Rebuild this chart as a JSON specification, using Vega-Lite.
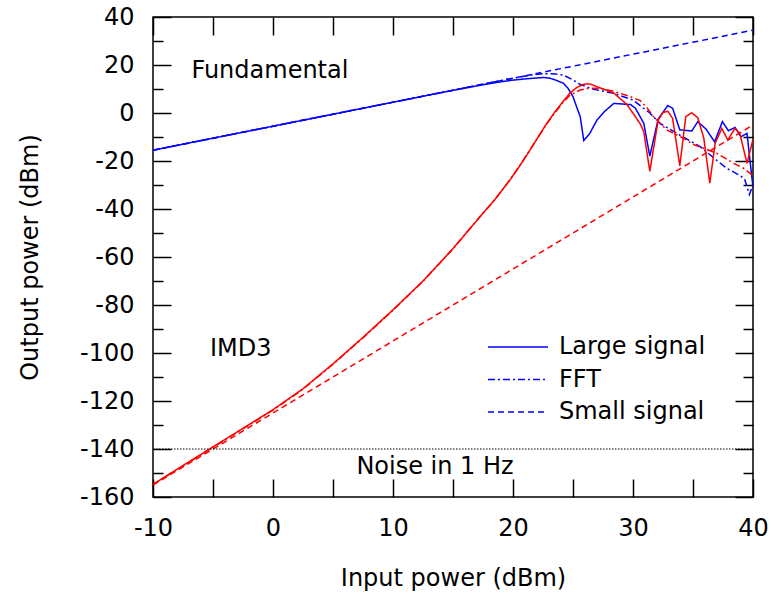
{
  "$schema": "https://vega.github.io/schema/vega-lite/v6.json",
  "width": 600,
  "height": 480,
  "autosize": {"type": "none"},
  "padding": {"left": 153, "top": 17, "right": 18, "bottom": 103},
  "background": "white",
  "config": {
    "font": "DejaVu Sans",
    "view": {"stroke": "black", "strokeWidth": 1.5},
    "axis": {"grid": false, "domain": false, "tickColor": "black", "tickWidth": 1.5, "labelColor": "black", "titleColor": "black", "labelFont": "DejaVu Sans", "titleFont": "DejaVu Sans", "labelFontSize": 24, "titleFontSize": 24, "titleFontWeight": "normal", "labelFlush": false, "labelOverlap": false, "labelBound": false}
  },
  "resolve": {"axis": {"x": "independent", "y": "independent"}},
  "layer": [
    {
      "data": {"values": [
        {"x": -10, "y": -15.5, "series": "fs", "group": "Fundamental", "type": "Small signal"},
        {"x": 40, "y": 34.5, "series": "fs", "group": "Fundamental", "type": "Small signal"},
        {"x": -10, "y": -15.5, "series": "fl", "group": "Fundamental", "type": "Large signal"},
        {"x": 0, "y": -5.5, "series": "fl", "group": "Fundamental", "type": "Large signal"},
        {"x": 10, "y": 4.5, "series": "fl", "group": "Fundamental", "type": "Large signal"},
        {"x": 15, "y": 9.45, "series": "fl", "group": "Fundamental", "type": "Large signal"},
        {"x": 17, "y": 11.3, "series": "fl", "group": "Fundamental", "type": "Large signal"},
        {"x": 18, "y": 12.2, "series": "fl", "group": "Fundamental", "type": "Large signal"},
        {"x": 19, "y": 13.0, "series": "fl", "group": "Fundamental", "type": "Large signal"},
        {"x": 20, "y": 13.7, "series": "fl", "group": "Fundamental", "type": "Large signal"},
        {"x": 21, "y": 14.2, "series": "fl", "group": "Fundamental", "type": "Large signal"},
        {"x": 22, "y": 14.6, "series": "fl", "group": "Fundamental", "type": "Large signal"},
        {"x": 22.5, "y": 14.8, "series": "fl", "group": "Fundamental", "type": "Large signal"},
        {"x": 23, "y": 14.6, "series": "fl", "group": "Fundamental", "type": "Large signal"},
        {"x": 23.5, "y": 13.8, "series": "fl", "group": "Fundamental", "type": "Large signal"},
        {"x": 24.2, "y": 12.4, "series": "fl", "group": "Fundamental", "type": "Large signal"},
        {"x": 24.6, "y": 10.2, "series": "fl", "group": "Fundamental", "type": "Large signal"},
        {"x": 25.0, "y": 6.8, "series": "fl", "group": "Fundamental", "type": "Large signal"},
        {"x": 25.3, "y": 2.6, "series": "fl", "group": "Fundamental", "type": "Large signal"},
        {"x": 25.6, "y": -1.5, "series": "fl", "group": "Fundamental", "type": "Large signal"},
        {"x": 25.9, "y": -11.5, "series": "fl", "group": "Fundamental", "type": "Large signal"},
        {"x": 26.4, "y": -8.5, "series": "fl", "group": "Fundamental", "type": "Large signal"},
        {"x": 27.0, "y": -2.9, "series": "fl", "group": "Fundamental", "type": "Large signal"},
        {"x": 27.6, "y": 0.5, "series": "fl", "group": "Fundamental", "type": "Large signal"},
        {"x": 28.4, "y": 4.0, "series": "fl", "group": "Fundamental", "type": "Large signal"},
        {"x": 29.8, "y": 3.5, "series": "fl", "group": "Fundamental", "type": "Large signal"},
        {"x": 30.2, "y": 2.0, "series": "fl", "group": "Fundamental", "type": "Large signal"},
        {"x": 30.9, "y": -4.3, "series": "fl", "group": "Fundamental", "type": "Large signal"},
        {"x": 31.4, "y": -18.0, "series": "fl", "group": "Fundamental", "type": "Large signal"},
        {"x": 32.1, "y": -2.5, "series": "fl", "group": "Fundamental", "type": "Large signal"},
        {"x": 32.9, "y": 3.1, "series": "fl", "group": "Fundamental", "type": "Large signal"},
        {"x": 33.3, "y": 2.0, "series": "fl", "group": "Fundamental", "type": "Large signal"},
        {"x": 33.9, "y": -7.0, "series": "fl", "group": "Fundamental", "type": "Large signal"},
        {"x": 34.9, "y": -7.5, "series": "fl", "group": "Fundamental", "type": "Large signal"},
        {"x": 35.4, "y": -3.6, "series": "fl", "group": "Fundamental", "type": "Large signal"},
        {"x": 36.1, "y": -6.8, "series": "fl", "group": "Fundamental", "type": "Large signal"},
        {"x": 36.8, "y": -12.0, "series": "fl", "group": "Fundamental", "type": "Large signal"},
        {"x": 37.45, "y": -3.6, "series": "fl", "group": "Fundamental", "type": "Large signal"},
        {"x": 37.95, "y": -7.4, "series": "fl", "group": "Fundamental", "type": "Large signal"},
        {"x": 38.5, "y": -6.0, "series": "fl", "group": "Fundamental", "type": "Large signal"},
        {"x": 39.0, "y": -9.9, "series": "fl", "group": "Fundamental", "type": "Large signal"},
        {"x": 39.5, "y": -8.5, "series": "fl", "group": "Fundamental", "type": "Large signal"},
        {"x": 40, "y": -31, "series": "fl", "group": "Fundamental", "type": "Large signal"},
        {"x": -10, "y": -15.5, "series": "ff", "group": "Fundamental", "type": "FFT"},
        {"x": 0, "y": -5.5, "series": "ff", "group": "Fundamental", "type": "FFT"},
        {"x": 10, "y": 4.5, "series": "ff", "group": "Fundamental", "type": "FFT"},
        {"x": 17.25, "y": 11.75, "series": "ff", "group": "Fundamental", "type": "FFT"},
        {"x": 20, "y": 14.5, "series": "ff", "group": "Fundamental", "type": "FFT"},
        {"x": 21.5, "y": 15.8, "series": "ff", "group": "Fundamental", "type": "FFT"},
        {"x": 22.5, "y": 16.4, "series": "ff", "group": "Fundamental", "type": "FFT"},
        {"x": 23.5, "y": 16.3, "series": "ff", "group": "Fundamental", "type": "FFT"},
        {"x": 24.2, "y": 15.8, "series": "ff", "group": "Fundamental", "type": "FFT"},
        {"x": 25, "y": 13.8, "series": "ff", "group": "Fundamental", "type": "FFT"},
        {"x": 25.6, "y": 11.9, "series": "ff", "group": "Fundamental", "type": "FFT"},
        {"x": 26.7, "y": 9.9, "series": "ff", "group": "Fundamental", "type": "FFT"},
        {"x": 28.4, "y": 8.2, "series": "ff", "group": "Fundamental", "type": "FFT"},
        {"x": 30, "y": 5.4, "series": "ff", "group": "Fundamental", "type": "FFT"},
        {"x": 31.4, "y": 0, "series": "ff", "group": "Fundamental", "type": "FFT"},
        {"x": 32.25, "y": -4.3, "series": "ff", "group": "Fundamental", "type": "FFT"},
        {"x": 33.9, "y": -9.2, "series": "ff", "group": "Fundamental", "type": "FFT"},
        {"x": 35.6, "y": -14, "series": "ff", "group": "Fundamental", "type": "FFT"},
        {"x": 36.8, "y": -19, "series": "ff", "group": "Fundamental", "type": "FFT"},
        {"x": 37.8, "y": -23, "series": "ff", "group": "Fundamental", "type": "FFT"},
        {"x": 38.9, "y": -26, "series": "ff", "group": "Fundamental", "type": "FFT"},
        {"x": 39.3, "y": -27.5, "series": "ff", "group": "Fundamental", "type": "FFT"},
        {"x": 39.7, "y": -34, "series": "ff", "group": "Fundamental", "type": "FFT"},
        {"x": 40, "y": -30, "series": "ff", "group": "Fundamental", "type": "FFT"},
        {"x": -10, "y": -155, "series": "is", "group": "IMD3", "type": "Small signal"},
        {"x": 40, "y": -5, "series": "is", "group": "IMD3", "type": "Small signal"},
        {"x": -10, "y": -154.7, "series": "il", "group": "IMD3", "type": "Large signal"},
        {"x": -7.5, "y": -146.9, "series": "il", "group": "IMD3", "type": "Large signal"},
        {"x": -5, "y": -139.1, "series": "il", "group": "IMD3", "type": "Large signal"},
        {"x": -2.5, "y": -131.4, "series": "il", "group": "IMD3", "type": "Large signal"},
        {"x": 0, "y": -123.6, "series": "il", "group": "IMD3", "type": "Large signal"},
        {"x": 2.5, "y": -114.9, "series": "il", "group": "IMD3", "type": "Large signal"},
        {"x": 5, "y": -104.5, "series": "il", "group": "IMD3", "type": "Large signal"},
        {"x": 7.5, "y": -93.5, "series": "il", "group": "IMD3", "type": "Large signal"},
        {"x": 10, "y": -82, "series": "il", "group": "IMD3", "type": "Large signal"},
        {"x": 12.5, "y": -70, "series": "il", "group": "IMD3", "type": "Large signal"},
        {"x": 15, "y": -56.5, "series": "il", "group": "IMD3", "type": "Large signal"},
        {"x": 17.25, "y": -43.2, "series": "il", "group": "IMD3", "type": "Large signal"},
        {"x": 18.5, "y": -36, "series": "il", "group": "IMD3", "type": "Large signal"},
        {"x": 19.75, "y": -27.9, "series": "il", "group": "IMD3", "type": "Large signal"},
        {"x": 20.5, "y": -22.5, "series": "il", "group": "IMD3", "type": "Large signal"},
        {"x": 21.25, "y": -16.8, "series": "il", "group": "IMD3", "type": "Large signal"},
        {"x": 22, "y": -10.8, "series": "il", "group": "IMD3", "type": "Large signal"},
        {"x": 22.75, "y": -4.8, "series": "il", "group": "IMD3", "type": "Large signal"},
        {"x": 23.5, "y": 0.5, "series": "il", "group": "IMD3", "type": "Large signal"},
        {"x": 24.2, "y": 5.0, "series": "il", "group": "IMD3", "type": "Large signal"},
        {"x": 24.75, "y": 8.3, "series": "il", "group": "IMD3", "type": "Large signal"},
        {"x": 25.3, "y": 10.6, "series": "il", "group": "IMD3", "type": "Large signal"},
        {"x": 25.9, "y": 12.0, "series": "il", "group": "IMD3", "type": "Large signal"},
        {"x": 26.4, "y": 12.1, "series": "il", "group": "IMD3", "type": "Large signal"},
        {"x": 27.25, "y": 10.5, "series": "il", "group": "IMD3", "type": "Large signal"},
        {"x": 28.4, "y": 8.3, "series": "il", "group": "IMD3", "type": "Large signal"},
        {"x": 29.5, "y": 3.5, "series": "il", "group": "IMD3", "type": "Large signal"},
        {"x": 30.0, "y": -0.1, "series": "il", "group": "IMD3", "type": "Large signal"},
        {"x": 30.6, "y": -4.5, "series": "il", "group": "IMD3", "type": "Large signal"},
        {"x": 30.9, "y": -7.8, "series": "il", "group": "IMD3", "type": "Large signal"},
        {"x": 31.4, "y": -24.3, "series": "il", "group": "IMD3", "type": "Large signal"},
        {"x": 32.1, "y": -2.9, "series": "il", "group": "IMD3", "type": "Large signal"},
        {"x": 32.5, "y": 0.2, "series": "il", "group": "IMD3", "type": "Large signal"},
        {"x": 32.9, "y": 0.7, "series": "il", "group": "IMD3", "type": "Large signal"},
        {"x": 33.3, "y": -2.2, "series": "il", "group": "IMD3", "type": "Large signal"},
        {"x": 33.9, "y": -22, "series": "il", "group": "IMD3", "type": "Large signal"},
        {"x": 34.4, "y": -1.5, "series": "il", "group": "IMD3", "type": "Large signal"},
        {"x": 34.9, "y": 0.1, "series": "il", "group": "IMD3", "type": "Large signal"},
        {"x": 35.4, "y": -2, "series": "il", "group": "IMD3", "type": "Large signal"},
        {"x": 35.9, "y": -10.5, "series": "il", "group": "IMD3", "type": "Large signal"},
        {"x": 36.4, "y": -29.2, "series": "il", "group": "IMD3", "type": "Large signal"},
        {"x": 36.85, "y": -12.6, "series": "il", "group": "IMD3", "type": "Large signal"},
        {"x": 37.4, "y": -6.4, "series": "il", "group": "IMD3", "type": "Large signal"},
        {"x": 37.9, "y": -11.25, "series": "il", "group": "IMD3", "type": "Large signal"},
        {"x": 38.5, "y": -6.4, "series": "il", "group": "IMD3", "type": "Large signal"},
        {"x": 38.9, "y": -8.5, "series": "il", "group": "IMD3", "type": "Large signal"},
        {"x": 39.5, "y": -21, "series": "il", "group": "IMD3", "type": "Large signal"},
        {"x": 40, "y": -11, "series": "il", "group": "IMD3", "type": "Large signal"},
        {"x": -10, "y": -154.8, "series": "if", "group": "IMD3", "type": "FFT"},
        {"x": -5, "y": -139.3, "series": "if", "group": "IMD3", "type": "FFT"},
        {"x": 0, "y": -123.8, "series": "if", "group": "IMD3", "type": "FFT"},
        {"x": 2.5, "y": -115.1, "series": "if", "group": "IMD3", "type": "FFT"},
        {"x": 5, "y": -104.7, "series": "if", "group": "IMD3", "type": "FFT"},
        {"x": 7.5, "y": -93.7, "series": "if", "group": "IMD3", "type": "FFT"},
        {"x": 10, "y": -82.2, "series": "if", "group": "IMD3", "type": "FFT"},
        {"x": 12.5, "y": -70.1, "series": "if", "group": "IMD3", "type": "FFT"},
        {"x": 15, "y": -56.6, "series": "if", "group": "IMD3", "type": "FFT"},
        {"x": 17.25, "y": -43.2, "series": "if", "group": "IMD3", "type": "FFT"},
        {"x": 18.5, "y": -36, "series": "if", "group": "IMD3", "type": "FFT"},
        {"x": 19.75, "y": -27.8, "series": "if", "group": "IMD3", "type": "FFT"},
        {"x": 20.5, "y": -22.4, "series": "if", "group": "IMD3", "type": "FFT"},
        {"x": 21.25, "y": -16.6, "series": "if", "group": "IMD3", "type": "FFT"},
        {"x": 22, "y": -10.8, "series": "if", "group": "IMD3", "type": "FFT"},
        {"x": 22.75, "y": -5.0, "series": "if", "group": "IMD3", "type": "FFT"},
        {"x": 23.5, "y": 0.2, "series": "if", "group": "IMD3", "type": "FFT"},
        {"x": 24.2, "y": 4.6, "series": "if", "group": "IMD3", "type": "FFT"},
        {"x": 24.75, "y": 7.4, "series": "if", "group": "IMD3", "type": "FFT"},
        {"x": 25.6, "y": 9.6, "series": "if", "group": "IMD3", "type": "FFT"},
        {"x": 26.3, "y": 10.3, "series": "if", "group": "IMD3", "type": "FFT"},
        {"x": 27.25, "y": 10.3, "series": "if", "group": "IMD3", "type": "FFT"},
        {"x": 28.4, "y": 9.0, "series": "if", "group": "IMD3", "type": "FFT"},
        {"x": 29.5, "y": 7.3, "series": "if", "group": "IMD3", "type": "FFT"},
        {"x": 30.6, "y": 5.2, "series": "if", "group": "IMD3", "type": "FFT"},
        {"x": 31.2, "y": 2.0, "series": "if", "group": "IMD3", "type": "FFT"},
        {"x": 31.7, "y": -1.5, "series": "if", "group": "IMD3", "type": "FFT"},
        {"x": 32.8, "y": -7, "series": "if", "group": "IMD3", "type": "FFT"},
        {"x": 34.2, "y": -10.5, "series": "if", "group": "IMD3", "type": "FFT"},
        {"x": 35.0, "y": -13, "series": "if", "group": "IMD3", "type": "FFT"},
        {"x": 37.0, "y": -16.8, "series": "if", "group": "IMD3", "type": "FFT"},
        {"x": 38.4, "y": -21, "series": "if", "group": "IMD3", "type": "FFT"},
        {"x": 39.2, "y": -23, "series": "if", "group": "IMD3", "type": "FFT"},
        {"x": 40, "y": -26, "series": "if", "group": "IMD3", "type": "FFT"}
      ]},
      "mark": {"type": "line", "strokeWidth": 1.5, "clip": true},
      "encoding": {
        "x": {"field": "x", "type": "quantitative", "scale": {"domain": [-10, 40], "nice": false, "zero": false},
          "axis": {"orient": "bottom", "values": [-10, -5, 0, 5, 10, 15, 20, 25, 30, 35, 40], "tickSize": -18, "labelPadding": 37,
            "labelExpr": "datum.value % 10 === 0 ? '' + datum.value : ''",
            "title": "Input power (dBm)", "titleX": 300, "titleY": 81, "titleBaseline": "middle"}},
        "y": {"field": "y", "type": "quantitative", "scale": {"domain": [-160, 40], "nice": false, "zero": false},
          "axis": {"orient": "left", "values": [-160, -140, -120, -100, -80, -60, -40, -20, 0, 20, 40], "tickSize": -18, "labelPadding": 37,
            "labelExpr": "'' + datum.value",
            "title": "Output power (dBm)", "titleX": -123, "titleY": 240, "titleBaseline": "middle"}},
        "color": {"field": "group", "type": "nominal", "scale": {"domain": ["Fundamental", "IMD3"], "range": ["#0000ff", "#ff0000"]}, "legend": null},
        "strokeDash": {"field": "type", "type": "nominal",
          "scale": {"domain": ["Large signal", "FFT", "Small signal"], "range": [[1, 0], [7, 3, 2, 3], [6, 4]]},
          "legend": {"orient": "none", "legendX": 353, "legendY": 318, "title": null, "symbolType": "M-3,0H3", "symbolSize": 400,
            "symbolStrokeColor": "#0000ff", "symbolFillColor": "transparent", "symbolStrokeWidth": 1.5, "labelFontSize": 24, "labelFont": "DejaVu Sans", "labelColor": "black",
            "labelOffset": 29, "rowPadding": 8.5, "labelLimit": 0}},
        "detail": {"field": "series"}
      }
    },
    {
      "data": {"values": [{"x": -10, "y": -140}, {"x": 40, "y": -140}]},
      "mark": {"type": "line", "color": "black", "strokeWidth": 1, "strokeDash": [1.5, 1.5]},
      "encoding": {
        "x": {"field": "x", "type": "quantitative",
          "axis": {"orient": "top", "values": [-10, -5, 0, 5, 10, 15, 20, 25, 30, 35, 40], "tickSize": -18, "labels": false, "title": null}},
        "y": {"field": "y", "type": "quantitative",
          "axis": {"orient": "left", "values": [-150, -130, -110, -90, -70, -50, -30, -10, 10, 30],
            "tickSize": -10, "labels": false, "title": null}}
      }
    },
    {
      "data": {"values": [{"x": -6.8, "y": 17.7, "label": "Fundamental"}, {"x": -5.25, "y": -98.3, "label": "IMD3"}]},
      "mark": {"type": "text", "align": "left", "baseline": "middle", "fontSize": 24, "font": "DejaVu Sans", "color": "black"},
      "encoding": {
        "x": {"field": "x", "type": "quantitative", "axis": null},
        "y": {"field": "y", "type": "quantitative",
          "axis": {"orient": "right", "values": [-160, -140, -120, -100, -80, -60, -40, -20, 0, 20, 40],
            "tickSize": -18, "labels": false, "title": null}},
        "text": {"field": "label"}
      }
    },
    {
      "data": {"values": [{"x": 13.5, "y": -147.7, "label": "Noise in 1 Hz"}]},
      "mark": {"type": "text", "align": "center", "baseline": "middle", "fontSize": 24, "font": "DejaVu Sans", "color": "black"},
      "encoding": {
        "x": {"field": "x", "type": "quantitative", "axis": null},
        "y": {"field": "y", "type": "quantitative",
          "axis": {"orient": "right", "values": [-150, -130, -110, -90, -70, -50, -30, -10, 10, 30],
            "tickSize": -10, "labels": false, "title": null}},
        "text": {"field": "label"}
      }
    }
  ]
}
